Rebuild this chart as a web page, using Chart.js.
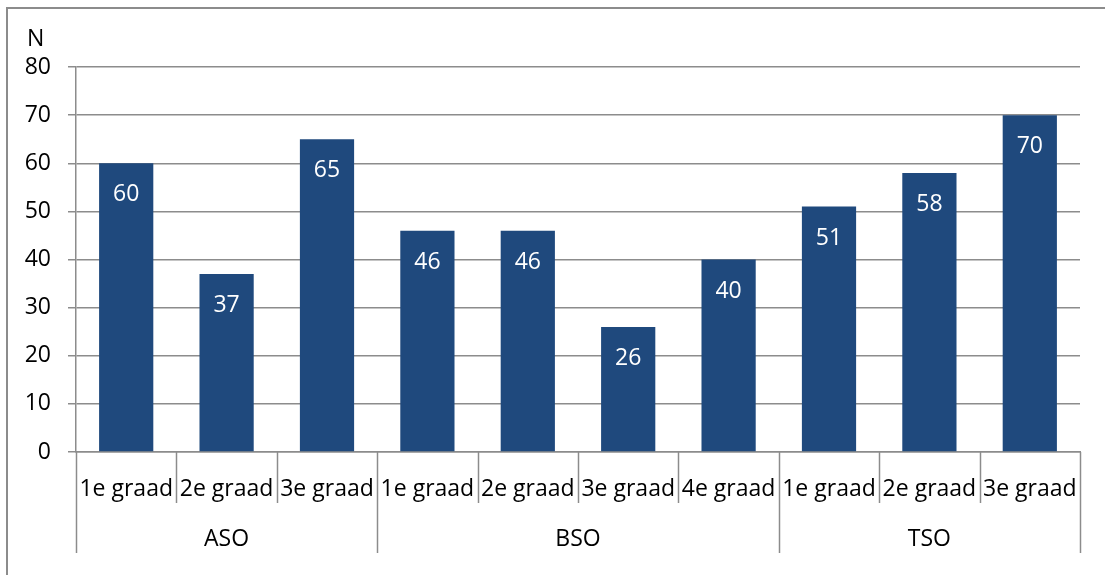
<!DOCTYPE html>
<html>
<head>
<meta charset="utf-8">
<script src="https://cdn.jsdelivr.net/npm/chart.js@4/dist/chart.umd.min.js"></script>
<style>
  html, body { margin: 0; padding: 0; background: #fff; }
  #wrap { position: relative; width: 1105px; height: 575px; }
  #frame { position: absolute; left: 6px; top: 7px; right: -10px; bottom: -10px;
           border-left: 2px solid #8c8c8c; border-top: 2px solid #8c8c8c; pointer-events: none; }
</style>
</head>
<body>
<div id="wrap">
  <canvas id="c" width="1105" height="575"></canvas>
  <div id="frame"></div>
</div>
<script>
const categories = ['1e graad', '2e graad', '3e graad', '1e graad', '2e graad', '3e graad', '4e graad', '1e graad', '2e graad', '3e graad'];
const groups = ['ASO', 'BSO', 'TSO'];
const groupSizes = [3, 4, 3];
const values = [60, 37, 65, 46, 46, 26, 40, 51, 58, 70];
const yMin = 0, yMax = 80, yStep = 10;
const yTitle = 'N';

const FONT = "'Open Sans', 'DejaVu Sans', sans-serif";
const FS = 23;
const GRID = '#8c8c8c';
const BAR = '#1F497D';

const extras = {
  id: 'extras',
  afterDatasetsDraw(chart) {
    const ctx = chart.ctx;
    const meta = chart.getDatasetMeta(0);
    ctx.save();
    ctx.font = FS + 'px ' + FONT;
    ctx.fillStyle = '#ffffff';
    ctx.textAlign = 'center';
    ctx.textBaseline = 'alphabetic';
    meta.data.forEach((bar, i) => {
      ctx.fillText(String(values[i]), bar.x, bar.y + 38);
    });
    ctx.restore();
  },
  afterDraw(chart) {
    const ctx = chart.ctx;
    const xs = chart.scales.x;
    const ys = chart.scales.y;
    const area = chart.chartArea;
    const n = categories.length;
    const step = (xs.getPixelForValue(1) - xs.getPixelForValue(0));
    const boundary = k => xs.getPixelForValue(0) - step / 2 + k * step;
    const groupBounds = new Set([0]);
    let acc = 0;
    groupSizes.forEach(s => { acc += s; groupBounds.add(acc); });
    ctx.save();
    ctx.strokeStyle = GRID;
    ctx.lineWidth = 1.5;
    for (let k = 0; k <= n; k++) {
      const x = Math.round(boundary(k)) + 0.5;
      const yEnd = groupBounds.has(k) ? area.bottom + 101 : area.bottom + 51;
      ctx.beginPath();
      ctx.moveTo(x, area.bottom);
      ctx.lineTo(x, yEnd);
      ctx.stroke();
    }
    // group labels
    ctx.font = FS + 'px ' + FONT;
    ctx.fillStyle = '#000';
    ctx.textAlign = 'center';
    ctx.textBaseline = 'alphabetic';
    let start = 0;
    groups.forEach((g, gi) => {
      const end = start + groupSizes[gi];
      const cx = (boundary(start) + boundary(end)) / 2;
      ctx.fillText(g, cx, area.bottom + 94);
      start = end;
    });
    // y title
    ctx.textAlign = 'left';
    ctx.fillText(yTitle, 27, ys.top - 21);
    ctx.restore();
  }
};

new Chart(document.getElementById('c'), {
  type: 'bar',
  data: {
    labels: categories,
    datasets: [{
      data: values,
      backgroundColor: BAR,
      borderWidth: 0,
      barPercentage: 0.54,
      categoryPercentage: 1.0
    }]
  },
  options: {
    responsive: false,
    animation: false,
    devicePixelRatio: 1,
    layout: { padding: { top: 67, right: 25, left: 0, bottom: 0 } },
    plugins: { legend: { display: false }, tooltip: { enabled: false } },
    scales: {
      x: {
        afterFit: s => { s.height = 123; },
        grid: { display: false, drawTicks: false },
        border: { display: true, color: GRID, width: 1.5 },
        ticks: { color: '#000', font: { family: FONT, size: FS }, padding: 24, maxRotation: 0, autoSkip: false }
      },
      y: {
        min: yMin, max: yMax,
        afterFit: s => { s.width = 76; },
        grid: { color: GRID, lineWidth: 1.5, tickLength: 8 },
        border: { display: true, color: GRID, width: 1.5 },
        ticks: { stepSize: yStep, color: '#000', font: { family: FONT, size: FS }, padding: 17 }
      }
    }
  },
  plugins: [extras]
});
</script>
</body>
</html>
